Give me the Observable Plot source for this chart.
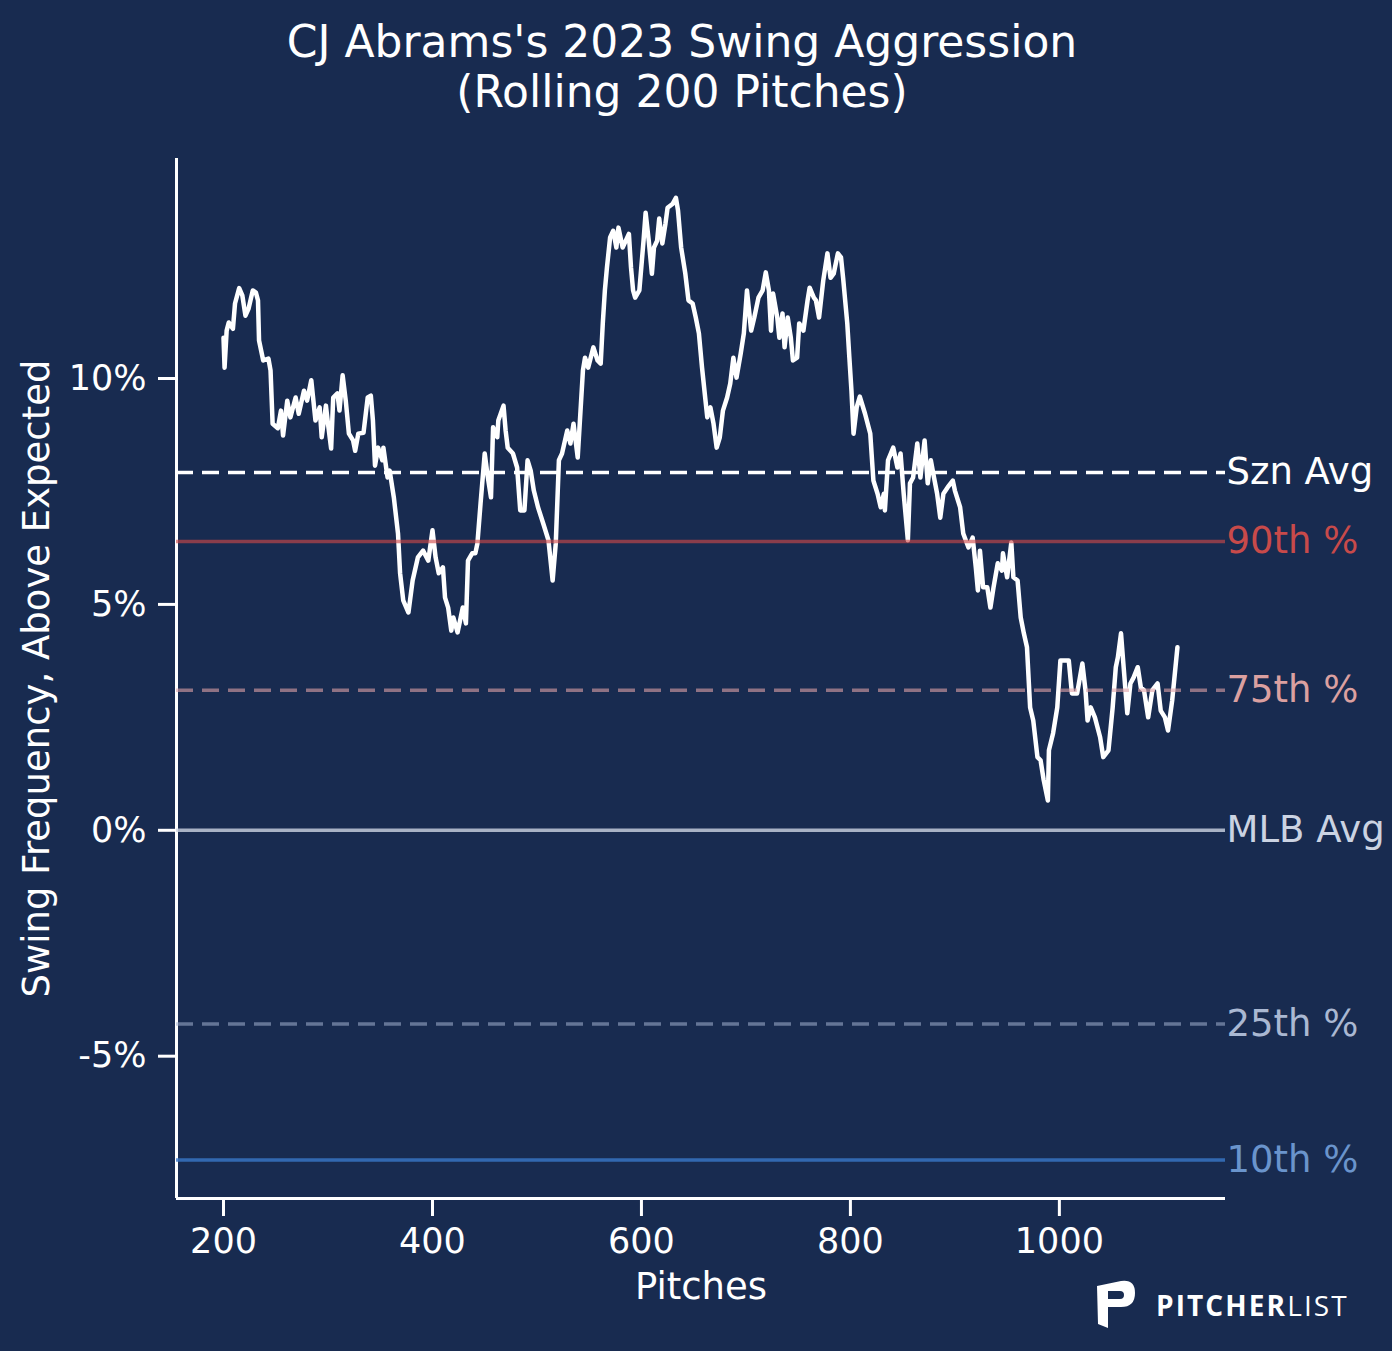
<!DOCTYPE html>
<html>
<head>
<meta charset="utf-8">
<script src="https://cdn.jsdelivr.net/npm/d3@7"></script>
<script src="https://cdn.jsdelivr.net/npm/@observablehq/plot@0.6"></script>
<style>
  html, body { margin: 0; padding: 0; background: #182b50; }
  #wrap { position: relative; width: 1392px; height: 1351px; background: #182b50; overflow: hidden; }
  #title { width: 1364px; text-align: center; color: #ffffff; font-family: "DejaVu Sans", sans-serif;
           font-size: 44px; line-height: 50px; padding-top: 17px; height: 113px; }
  #chart { position: absolute; left: 0; top: 130px; }
  #logo { position: absolute; left: 1097px; top: 1280px; display: flex; align-items: center; }
  #logo .txt { font-family: "Open Sans", sans-serif; font-size: 28px; color: #ffffff; letter-spacing: 2.1px; margin-left: 21px; margin-top: 2px; }
  #logo .txt b { font-weight: 700; }
  #logo .txt span { font-weight: 400; }
</style>
</head>
<body>
<div id="wrap">
  <div id="title">CJ Abrams's 2023 Swing Aggression<br>(Rolling 200 Pitches)</div>
  <div id="chart"></div>
  <div id="logo">
    <svg width="38" height="48" viewBox="0 0 38 48">
      <path fill="#ffffff" fill-rule="evenodd"
        d="M0 6 L24 1 Q38 -1 38 13 Q38 27 24 27 L11 27 L11 48 L1 44 Z M11 11 L11 19 L23 19 Q27 19 27 15 Q27 11 23 11 Z"/>
    </svg>
    <div class="txt"><b>PITCHER</b><span>LIST</span></div>
  </div>
</div>
<script>
// ---- data ----
const pitches = [200,201,203,205,209,211,215,218,221,224,228,231,233,234,238,243,245,247,252,255,257,261,264,269,272,277,280,284,288,292,294,298,300,303,305,309,311,314,317,320,324,326,329,334,338,341,343,345,348,352,353,357,359,363,367,369,372,377,381,386,391,396,400,403,406,410,412,415,418,420,424,429,432,434,438,441,443,446,450,453,456,458,462,463,468,470,472,477,481,484,488,491,494,497,501,506,511,515,518,521,524,529,532,535,539,544,546,549,554,558,561,563,565,567,570,573,576,578,582,585,588,590,592,594,598,602,604,607,610,612,615,617,620,623,625,630,633,635,638,642,645,649,652,655,658,661,663,666,669,672,675,678,682,685,688,691,695,698,701,705,708,712,716,719,722,724,726,730,732,735,737,740,743,745,749,751,755,759,761,765,767,770,774,778,781,784,788,791,793,797,799,801,803,806,809,814,819,822,826,829,832,833,836,841,845,848,851,855,857,860,864,867,871,874,877,880,883,886,889,893,898,900,905,908,913,917,920,922,924,927,931,934,937,941,945,946,950,954,956,960,963,966,969,972,975,979,982,985,989,990,994,998,1001,1005,1009,1012,1017,1022,1025,1027,1030,1034,1039,1042,1047,1051,1054,1056,1059,1061,1065,1068,1071,1075,1078,1081,1085,1089,1094,1097,1101,1104,1108,1113];
const swingAboveExp = [10.9,10.24,11.06,11.24,11.1,11.66,12.0,11.84,11.39,11.55,11.95,11.9,11.73,10.84,10.4,10.44,10.18,9.0,8.9,9.29,8.74,9.51,9.14,9.58,9.22,9.73,9.51,9.96,9.07,9.36,8.7,9.4,9.0,8.45,9.58,9.67,9.29,10.07,9.51,8.78,8.63,8.4,8.78,8.8,9.58,9.62,9.07,8.07,8.47,8.19,8.47,7.81,7.96,7.37,6.57,5.69,5.09,4.82,5.53,6.04,6.19,5.97,6.64,6.04,5.69,5.82,5.15,4.93,4.42,4.71,4.38,4.93,4.58,5.97,6.13,6.13,6.35,7.23,8.34,7.81,7.37,8.92,8.7,9.07,9.4,8.85,8.47,8.34,8.03,7.08,7.08,8.19,7.96,7.52,7.15,6.79,6.42,5.53,6.35,8.19,8.34,8.85,8.56,9.0,8.25,10.18,10.46,10.24,10.69,10.4,10.33,11.22,11.95,12.46,13.12,13.27,12.9,13.34,12.9,13.05,13.2,12.46,11.95,11.79,11.95,13.05,13.67,13.05,12.32,12.9,13.05,13.54,12.99,13.43,13.78,13.87,14.0,13.72,12.9,12.32,11.73,11.66,11.35,11.0,10.24,9.58,9.14,9.36,9.0,8.47,8.7,9.29,9.58,9.89,10.46,10.02,10.55,11.0,11.95,11.06,11.35,11.79,11.95,12.35,11.95,11.06,11.88,11.35,10.9,11.44,10.69,11.35,10.9,10.4,10.46,11.22,11.06,11.73,12.01,11.79,11.73,11.35,12.17,12.77,12.23,12.32,12.77,12.68,12.23,11.22,10.46,9.73,8.78,9.36,9.6,9.22,8.78,7.74,7.45,7.15,7.45,7.08,8.19,8.47,8.03,8.34,7.45,6.42,7.68,7.81,8.56,7.81,8.63,7.68,8.19,7.81,7.45,6.92,7.45,7.59,7.74,7.52,7.15,6.57,6.26,6.48,5.82,5.31,6.19,5.38,5.38,4.93,5.38,5.91,5.75,6.13,5.6,6.37,5.6,5.53,4.71,4.36,4.05,2.72,2.43,1.62,1.55,1.11,0.66,1.77,2.15,2.72,3.76,3.76,3.76,3.03,3.03,3.69,3.1,2.43,2.72,2.5,2.06,1.62,1.77,2.72,3.61,3.83,4.36,3.76,2.59,3.25,3.38,3.61,3.16,3.1,2.5,3.1,3.25,2.65,2.5,2.21,2.88,4.05];

const refNames  = ["Szn Avg", "90th %", "75th %", "MLB Avg", "25th %", "10th %"];
const refValues = [7.92, 6.39, 3.1, 0, -4.29, -7.30];

const xTicks = [200, 400, 600, 800, 1000];
const yTicks = [-5, 0, 5, 10];

// ---- styles (not data) ----
const refStyles = [
  {stroke: "#ffffff", opacity: 1.0,  dash: "17,9", label: "#ffffff"},
  {stroke: "#d04848", opacity: 0.62, dash: null,   label: "#c84a4a"},
  {stroke: "#e0a2a6", opacity: 0.6,  dash: "17,9", label: "#dba0a0"},
  {stroke: "#cdd4e2", opacity: 0.8,  dash: null,   label: "#cbd3e2"},
  {stroke: "#a4b2d0", opacity: 0.55, dash: "17,9", label: "#aab8d2"},
  {stroke: "#3a78c8", opacity: 0.8,  dash: null,   label: "#6a94cc"}
];

const series = pitches.map((p, i) => ({pitch: p, value: swingAboveExp[i]}));
const xDomain = [155, 1159];
const yDomain = [-8.15, 14.87];

const marks = [
  Plot.axisX({ticks: xTicks, tickSize: 18, tickPadding: 12, strokeWidth: 3, stroke: "#ffffff",
              fill: "#ffffff", fontSize: 35, tickFormat: d => String(d), label: null}),
  Plot.axisY({ticks: yTicks, tickSize: 18, tickPadding: 12, strokeWidth: 3, stroke: "#ffffff",
              fill: "#ffffff", fontSize: 35, tickFormat: d => `${d}%`, label: null}),
  Plot.ruleX([xDomain[0]], {stroke: "#ffffff", strokeWidth: 3}),
  Plot.ruleY([yDomain[0]], {stroke: "#ffffff", strokeWidth: 3}),
  Plot.line(series, {x: "pitch", y: "value", stroke: "#ffffff", strokeWidth: 4.5, strokeLinejoin: "round"})
];

refValues.forEach((v, i) => {
  const s = refStyles[i];
  marks.push(Plot.ruleY([v], {x1: xDomain[0], x2: xDomain[1], stroke: s.stroke, strokeOpacity: s.opacity,
    strokeWidth: 3.5, strokeDasharray: s.dash || undefined}));
  marks.push(Plot.text([refNames[i]], {x: xDomain[1], y: v, text: d => d, textAnchor: "start", dx: 1,
    fill: s.label, fontSize: 37, fontFamily: "DejaVu Sans"}));
});

marks.push(Plot.text(["Pitches"], {frameAnchor: "bottom", dy: 100, text: d => d, textAnchor: "middle",
  fill: "#ffffff", fontSize: 37}));
marks.push(Plot.text(["Swing Frequency, Above Expected"], {frameAnchor: "left", rotate: -90, dx: -139,
  text: d => d, textAnchor: "middle", fill: "#ffffff", fontSize: 37}));

const chart = Plot.plot({
  width: 1392,
  height: 1221,
  marginTop: 28,
  marginBottom: 153,
  marginLeft: 176,
  marginRight: 167,
  style: {background: "transparent", color: "#ffffff", fontFamily: "DejaVu Sans", fontSize: "35px", overflow: "visible"},
  x: {domain: xDomain},
  y: {domain: yDomain},
  marks
});
document.getElementById("chart").appendChild(chart);
</script>
</body>
</html>
